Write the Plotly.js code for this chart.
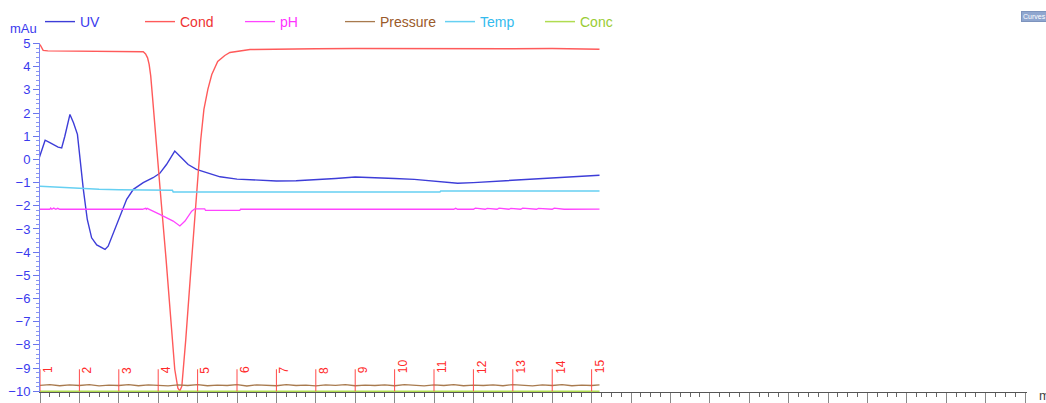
<!DOCTYPE html>
<html>
<head>
<meta charset="utf-8">
<script src="https://cdn.plot.ly/plotly-3.0.1.min.js"></script>
<style>
html,body{margin:0;padding:0;background:#fff;overflow:hidden;}
#chart{width:1046px;height:403px;}
</style>
</head>
<body>
<div id="chart"></div>
<script>
// ---------- data ----------
const uvX = [0.98,1.13,1.25,1.46,1.55,1.63,1.76,1.85,1.95,2.01,2.1,2.2,2.31,2.44,2.65,2.73,2.86,3.03,3.2,3.37,3.62,3.87,4.04,4.21,4.42,4.59,4.76,4.97,5.23,5.57,6.0,6.5,7.0,7.5,8.0,8.5,9.0,9.5,10.0,10.5,11.0,11.3,11.6,12.0,12.5,13.0,13.5,14.0,14.5,15.0,15.2];
const uvY = [0.07,0.83,0.72,0.53,0.5,1.0,1.94,1.58,1.08,0.0,-1.29,-2.59,-3.38,-3.69,-3.88,-3.74,-3.16,-2.44,-1.72,-1.29,-1.0,-0.79,-0.6,-0.22,0.36,0.07,-0.22,-0.43,-0.57,-0.75,-0.85,-0.9,-0.93,-0.92,-0.88,-0.82,-0.76,-0.78,-0.82,-0.86,-0.93,-1.0,-1.03,-1.0,-0.95,-0.9,-0.85,-0.8,-0.76,-0.71,-0.68];

const condX = [1.0,1.03,1.08,1.2,2.0,3.0,3.5,3.62,3.68,3.73,3.77,3.81,3.86,3.94,4.07,4.2,4.32,4.42,4.5,4.55,4.6,4.7,4.83,4.96,5.08,5.16,5.26,5.36,5.51,5.69,5.82,6.33,7.0,8.0,9.0,10.0,11.0,12.0,13.0,14.0,15.0,15.2];
const condY = [4.95,4.85,4.7,4.68,4.67,4.67,4.66,4.64,4.55,4.38,4.1,3.6,2.6,0.86,-1.72,-4.31,-6.9,-9.05,-9.87,-9.98,-9.78,-7.76,-4.74,-1.72,0.86,2.16,3.02,3.66,4.22,4.48,4.61,4.74,4.76,4.77,4.78,4.77,4.78,4.78,4.77,4.78,4.77,4.75];

const phX = [1.0,1.25,1.27,1.3,1.35,1.4,1.45,1.5,2.0,3.0,3.6,3.68,3.7,3.72,3.8,4.04,4.38,4.55,4.68,4.85,4.93,5.18,5.2,6.07,6.09,8.0,10.0,11.5,11.55,11.6,12.0,12.05,12.3,12.35,12.6,12.65,12.9,12.95,13.2,13.25,13.6,13.65,14.0,14.05,14.3,15.2];
const phY = [-2.15,-2.15,-2.1,-2.15,-2.1,-2.15,-2.11,-2.15,-2.15,-2.15,-2.15,-2.11,-2.15,-2.11,-2.17,-2.37,-2.66,-2.87,-2.66,-2.23,-2.13,-2.13,-2.2,-2.2,-2.15,-2.15,-2.15,-2.15,-2.11,-2.15,-2.15,-2.1,-2.15,-2.11,-2.15,-2.1,-2.15,-2.11,-2.15,-2.1,-2.15,-2.11,-2.15,-2.1,-2.15,-2.14];

const pressX = [1.0,1.25,1.5,1.75,2.0,2.25,2.5,2.75,3.0,3.25,3.5,3.75,4.0,4.25,4.5,4.75,5.0,5.25,5.5,5.75,6.0,6.25,6.5,6.75,7.0,7.25,7.5,7.75,8.0,8.25,8.5,8.75,9.0,9.25,9.5,9.75,10.0,10.25,10.5,10.75,11.0,11.25,11.5,11.75,12.0,12.25,12.5,12.75,13.0,13.25,13.5,13.75,14.0,14.25,14.5,14.75,15.0,15.2];
const pressY = [-9.74,-9.71,-9.76,-9.72,-9.75,-9.71,-9.77,-9.73,-9.75,-9.71,-9.76,-9.72,-9.74,-9.77,-9.72,-9.75,-9.71,-9.76,-9.73,-9.75,-9.71,-9.77,-9.72,-9.74,-9.76,-9.71,-9.75,-9.73,-9.77,-9.72,-9.74,-9.71,-9.76,-9.73,-9.75,-9.72,-9.76,-9.71,-9.74,-9.77,-9.72,-9.75,-9.71,-9.76,-9.73,-9.75,-9.72,-9.76,-9.71,-9.74,-9.77,-9.72,-9.75,-9.71,-9.76,-9.73,-9.75,-9.72];

const tempX = [1.0,1.5,2.0,2.5,3.0,3.5,4.0,4.36,4.38,6.0,8.0,10.0,11.15,11.17,13.0,15.2];
const tempY = [-1.16,-1.21,-1.26,-1.29,-1.31,-1.32,-1.33,-1.33,-1.4,-1.4,-1.4,-1.4,-1.4,-1.36,-1.36,-1.36];

const concX = [1.0,15.2];
const concY = [-10.0,-10.0];

const fractions = [1,2,3,4,5,6,7,8,9,10,11,12,13,14,15];
const fractionLabels = ['1','2','3','4','5','6','7','8','9','10','11','12','13','14','15'];

// ---------- chart ----------
const FONT = 'Liberation Sans, Arial, sans-serif';
function tr(x, y, name, lineColor, textColor, w) {
  return {
    type: 'scatter', mode: 'lines', x: x, y: y,
    name: '<span style="color:' + textColor + '">' + name + '</span>',
    line: {color: lineColor, width: w || 1.3},
    hoverinfo: 'skip'
  };
}
const traces = [
  tr(uvX, uvY, 'UV', '#3d3dd8', '#3a3aee', 1.4),
  tr(condX, condY, 'Cond', '#ff5a5a', '#ee3333', 1.4),
  tr(phX, phY, 'pH', '#ff44ff', '#ff33ff'),
  tr(pressX, pressY, 'Pressure', '#a87a4e', '#9a5a2a'),
  tr(tempX, tempY, 'Temp', '#66d0f2', '#33bbee', 1.5),
  tr(concX, concY, 'Conc', '#b0dc50', '#99cc33', 1.5)
];

const shapes = fractions.map(f => ({
  type: 'line', xref: 'x', yref: 'y', x0: f, x1: f, y0: -10, y1: -9.05,
  line: {color: '#ff4a4a', width: 1}, layer: 'above'
}));

const annotations = fractions.map((f, i) => ({
  xref: 'x', yref: 'y', x: f, y: -9.28, text: fractionLabels[i],
  textangle: -90, xanchor: 'left', yanchor: 'bottom', showarrow: false,
  borderpad: 0, font: {family: FONT, size: 12, color: '#ff2a2a'}
}));
annotations.push({
  xref: 'paper', yref: 'paper', x: 0, y: 1, xanchor: 'right', yanchor: 'bottom',
  xshift: -1, yshift: 5, text: 'mAu', showarrow: false,
  font: {family: FONT, size: 13, color: '#3a3aee'}
});
annotations.push({
  xref: 'paper', yref: 'paper', x: 1.0101, y: 0, xanchor: 'left', yanchor: 'middle',
  yshift: -3, text: 'min', showarrow: false,
  font: {family: FONT, size: 13, color: '#444'}
});
annotations.push({
  xref: 'paper', yref: 'paper', x: 0.9935, y: 1.075, xanchor: 'left', yanchor: 'middle',
  text: 'Curves', showarrow: false, bgcolor: '#8fa6cf', bordercolor: '#7d93bd', borderwidth: 1, borderpad: 1,
  font: {family: FONT, size: 7, color: '#ffffff'}
});

const layout = {
  width: 1046, height: 403,
  margin: {l: 40, r: 19, t: 43, b: 11, pad: 0, autoexpand: false},
  paper_bgcolor: '#ffffff', plot_bgcolor: '#ffffff',
  font: {family: FONT, size: 13},
  showlegend: true,
  legend: {
    orientation: 'h', xref: 'container', yref: 'container',
    x: 40 / 1046, xanchor: 'left', y: 1 - 6 / 403, yanchor: 'top',
    entrywidth: 55, entrywidthmode: 'pixels', itemwidth: 30,
    bgcolor: 'rgba(0,0,0,0)', traceorder: 'normal',
    font: {family: FONT, size: 14}
  },
  xaxis: {
    range: [1, 26.05], showgrid: false, zeroline: false,
    showline: true, linecolor: '#555', linewidth: 1,
    ticks: 'outside', ticklen: 10, tickcolor: '#888', tickwidth: 1,
    dtick: 1, tick0: 1, showticklabels: false,
    minor: {dtick: 0.25, tick0: 1, ticks: 'outside', ticklen: 4, tickcolor: '#666', showgrid: false}
  },
  yaxis: {
    range: [-10.03, 5.02], showgrid: false, zeroline: false,
    showline: true, linecolor: '#7d88f2', linewidth: 1,
    ticks: 'outside', ticklen: 6, tickcolor: '#6a76ee', tickwidth: 1,
    dtick: 1, tick0: 0,
    tickfont: {family: FONT, size: 13, color: '#3a3aee'},
    minor: {dtick: 0.2, ticks: 'outside', ticklen: 3, tickcolor: '#8a95f2', showgrid: false}
  },
  shapes: shapes,
  annotations: annotations
};

Plotly.newPlot('chart', traces, layout, {displayModeBar: false, staticPlot: true});
</script>
</body>
</html>
